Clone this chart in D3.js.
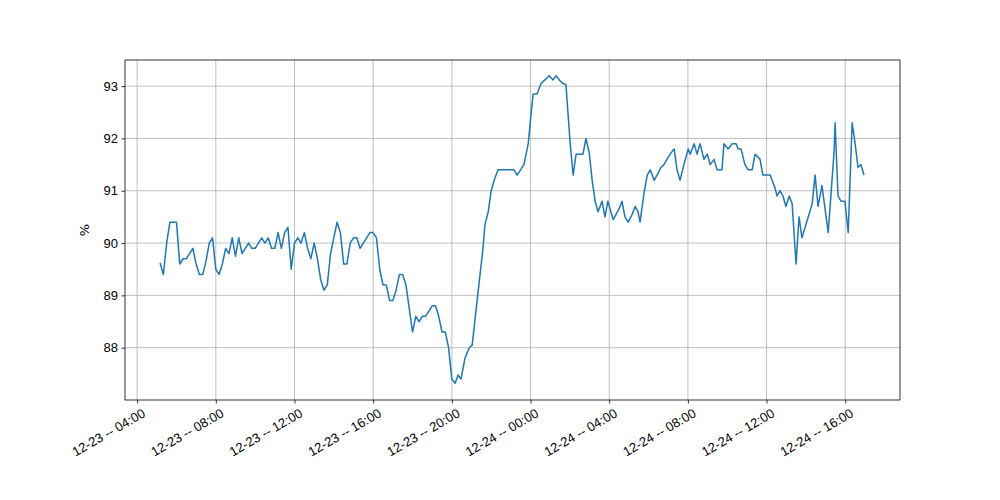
<!DOCTYPE html>
<html><head><meta charset="utf-8">
<script src="https://cdn.jsdelivr.net/npm/d3@7"></script>
<style>body{margin:0;background:#fff}svg{font-family:"DejaVu Sans",sans-serif}</style>
</head><body><svg id="c" width="1000" height="500"></svg>
<script>
// minutes since 12-23 00:00
const minutes = [310,320,330,340,360,370,380,390,410,420,430,440,450,460,470,480,490,500,510,520,530,540,550,560,570,580,590,600,610,620,630,640,650,660,670,680,690,700,710,
720,730,740,750,760,770,780,790,800,810,820,830,840,850,860,870,880,890,900,910,920,950,960,970,980,990,1000,1010,1020,1030,1040,1050,1060,1080,1090,1100,1110,1120,1140,1150,1160,1170,1180,1190,1200,1210,
1219,1228,1240,1253,1262,1277,1286,1295,1301,1311,1320,1329,1341,1359,1390,1399,1420,1433,1442,1448,1460,1472,1484,1497,1509,1518,1530,1539,1548,1561,1570,1579,1600,1609,1619,1628,1637,1646,1658,1667,
1676,1692,1701,1713,1719,1728,1738,1750,1759,1768,1774,1786,1796,1805,1817,1826,1838,1847,1856,1866,1878,1887,1896,1908,1921,1927,1939,1948,1957,1969,1979,1988,2000,2009,2024,2030,2043,2055,2067,2073,2082,2094,2104,2116,2125,2140,
2149,2171,2186,2192,2201,2210,2219,2229,2238,2250,2259,2268,2280,2299,2308,2317,2329,2348,2366,2369,2378,2387,2399,2409,2421,2430,2439,2448,2457];
const values = [89.62,89.4,90.0,90.4,90.4,89.6,89.7,89.7,89.9,89.6,89.4,89.4,89.65,90.0,90.1,89.5,89.4,89.6,89.9,89.8,90.1,89.75,90.1,89.8,89.9,90.0,89.9,89.9,90.0,90.1,90.0,90.1,89.9,89.9,90.2,89.9,90.2,90.3,89.5,
90.0,90.1,90.0,90.2,89.9,89.7,90.0,89.7,89.3,89.1,89.2,89.8,90.1,90.4,90.2,89.6,89.6,90.0,90.1,90.1,89.9,90.2,90.2,90.1,89.5,89.2,89.2,88.9,88.9,89.1,89.4,89.4,89.2,88.3,88.6,88.5,88.6,88.6,88.8,88.8,88.6,88.3,88.3,88.0,87.4,87.32,
87.48,87.4,87.8,88.0,88.05,88.9,89.4,89.9,90.35,90.6,91.0,91.2,91.4,91.4,91.4,91.3,91.5,91.9,92.5,92.85,92.85,93.05,93.12,93.2,93.12,93.2,93.1,93.05,93.03,91.9,91.3,91.7,91.7,92.0,91.73,91.2,90.8,90.6,90.8,90.5,
90.8,90.45,90.55,90.7,90.8,90.5,90.4,90.55,90.7,90.6,90.4,90.95,91.3,91.4,91.2,91.3,91.45,91.5,91.6,91.7,91.8,91.4,91.2,91.5,91.8,91.7,91.9,91.7,91.9,91.6,91.7,91.5,91.6,91.4,91.4,91.9,91.8,91.9,91.9,91.8,91.8,91.5,91.4,91.4,91.7,91.6,
91.3,91.3,91.05,90.9,91.0,90.9,90.7,90.9,90.75,89.6,90.5,90.1,90.35,90.75,91.3,90.7,91.1,90.2,91.75,92.3,90.9,90.8,90.8,90.2,92.3,91.9,91.45,91.5,91.3];
const yTicks = [88,89,90,91,92,93];
const xTickMinutes = [240,480,720,960,1200,1440,1680,1920,2160,2400];
const xDomain = [203,2567], yDomain = [87.0,93.5];

const base = new Date(2023,11,23,0,0);
const toDate = m => new Date(base.getTime()+m*60000);
const data = minutes.map((m,i)=>({t:toDate(m),v:values[i]}));
const svg = d3.select("#c");
const L=125,R=900,T=60,B=400;
const x = d3.scaleTime().domain(xDomain.map(toDate)).range([L,R]);
const y = d3.scaleLinear().domain(yDomain).range([B,T]);
const fmt = d3.timeFormat("%m-%d -- %H:%M");
svg.append("g").selectAll("line").data(xTickMinutes).join("line")
  .attr("x1",d=>x(toDate(d))).attr("x2",d=>x(toDate(d))).attr("y1",T).attr("y2",B)
  .attr("stroke","#b0b0b0").attr("stroke-width",0.8);
svg.append("g").selectAll("line").data(yTicks).join("line")
  .attr("y1",d=>y(d)).attr("y2",d=>y(d)).attr("x1",L).attr("x2",R)
  .attr("stroke","#b0b0b0").attr("stroke-width",0.8);
svg.append("path").datum(data).attr("fill","none").attr("stroke","#1f77b4").attr("stroke-width",1.5)
  .attr("stroke-linejoin","round").attr("d",d3.line().x(d=>x(d.t)).y(d=>y(d.v)));
const xa = svg.append("g").attr("transform",`translate(0,${B})`)
  .call(d3.axisBottom(x).tickValues(xTickMinutes.map(toDate)).tickFormat(fmt).tickSize(3.5));
xa.selectAll("text").attr("font-size",13).attr("fill","#000").attr("text-anchor","end")
  .attr("y",0).attr("dy","0.7em").attr("transform","translate(4,8) rotate(-30)");
const ya = svg.append("g").attr("transform",`translate(${L},0)`)
  .call(d3.axisLeft(y).tickValues(yTicks).tickFormat(d=>d).tickSize(3.5).tickPadding(3.5));
ya.selectAll("text").attr("font-size",13).attr("fill","#000");
svg.selectAll(".domain").remove();
svg.selectAll(".tick line").attr("stroke","#000").attr("stroke-width",0.8);
svg.append("rect").attr("x",L).attr("y",T).attr("width",R-L).attr("height",B-T)
  .attr("fill","none").attr("stroke","#000").attr("stroke-width",0.8);
svg.append("text").attr("transform",`translate(89,230) rotate(-90)`).attr("text-anchor","middle")
  .attr("font-size",13).text("%");
</script></body></html>
